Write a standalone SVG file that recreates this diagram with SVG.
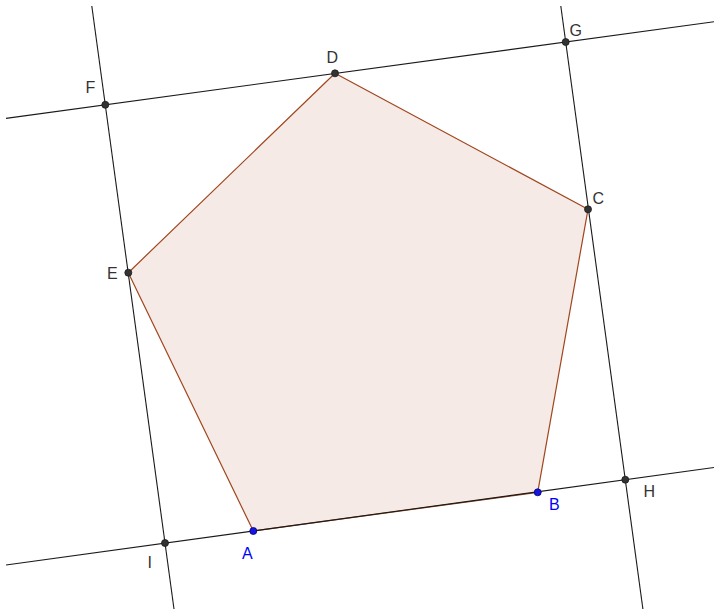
<svg xmlns="http://www.w3.org/2000/svg" width="714" height="610" viewBox="0 0 714 610">
<style>
.ln{stroke:#1a1a1a;stroke-width:1.1;fill:none}
.poly{fill:#993300;fill-opacity:0.1;stroke:#a0461e;stroke-width:1.2;stroke-linejoin:round}
.pt{fill:#333333;stroke:#1a1a1a;stroke-width:0.8}
.fp{fill:#1515e0;stroke:#00007a;stroke-width:0.8}
.lbl{font-family:"Liberation Sans",Arial,sans-serif;font-size:16px;fill:#333333}
.blbl{font-family:"Liberation Sans",Arial,sans-serif;font-size:16px;fill:#0000ff}
</style>
<rect width="714" height="610" fill="#ffffff"/>
<g id="polygon">
<polygon class="poly" points="253.3,531 537.7,492.3 588,209.3 335,73.3 128.3,272.7"/>
</g>
<g id="connectors">
<line class="ln" x1="6" y1="118.4" x2="714" y2="21.8"/>
<line class="ln" x1="6" y1="565" x2="714" y2="467.5"/>
<line class="ln" x1="91.8" y1="6" x2="174" y2="609"/>
<line class="ln" x1="560.8" y1="6" x2="642.9" y2="609"/>
</g>
<g id="node-A"><circle class="fp" cx="253.3" cy="531" r="3.5"/><text class="blbl" x="242" y="559">A</text></g>
<g id="node-B"><circle class="fp" cx="537.7" cy="492.3" r="3.5"/><text class="blbl" x="549" y="510">B</text></g>
<g id="node-C"><circle class="pt" cx="588" cy="209.3" r="3.5"/><text class="lbl" x="592.5" y="204">C</text></g>
<g id="node-D"><circle class="pt" cx="335" cy="73.3" r="3.5"/><text class="lbl" x="326.5" y="63.3">D</text></g>
<g id="node-E"><circle class="pt" cx="128.3" cy="272.7" r="3.5"/><text class="lbl" x="107" y="279">E</text></g>
<g id="node-F"><circle class="pt" cx="105.3" cy="104.8" r="3.5"/><text class="lbl" x="85.5" y="92.7">F</text></g>
<g id="node-G"><circle class="pt" cx="565.7" cy="42" r="3.5"/><text class="lbl" x="569.5" y="35.8">G</text></g>
<g id="node-H"><circle class="pt" cx="625.3" cy="479.7" r="3.5"/><text class="lbl" x="643.5" y="496.8">H</text></g>
<g id="node-I"><circle class="pt" cx="165" cy="543" r="3.5"/><text class="lbl" x="147.5" y="568.3">I</text></g>
</svg>
